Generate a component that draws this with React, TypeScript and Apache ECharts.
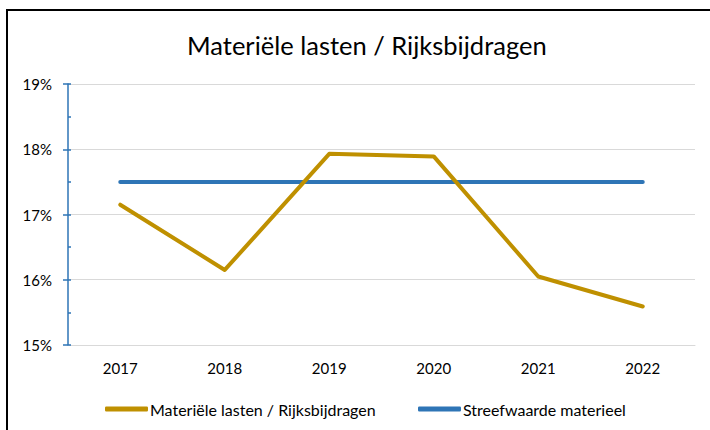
import React, { useEffect, useRef } from "react";
import * as echarts from "echarts";

const years = ["2017", "2018", "2019", "2020", "2021", "2022"];
const materieleLasten = [0.1715, 0.1615, 0.1793, 0.1789, 0.1605, 0.1559];
const streefwaarde = [0.175, 0.175, 0.175, 0.175, 0.175, 0.175];
const seriesNames = ["Materiële lasten / Rijksbijdragen", "Streefwaarde materieel"];
const titleText = "Materiële lasten / Rijksbijdragen";

const FONT = "Lato, 'Open Sans', sans-serif";

export default function App() {
  const ref = useRef<HTMLDivElement>(null);
  useEffect(() => {
    if (!ref.current) return;
    const chart = echarts.init(ref.current, null, { renderer: "svg" });
    chart.setOption({
      animation: false,
      backgroundColor: "#ffffff",
      title: {
        text: titleText,
        left: 182,
        top: 27,
        textStyle: { fontFamily: FONT, fontSize: 25.5, fontWeight: "normal", color: "#000000" },
      },
      graphic: [
        {
          type: "rect",
          shape: { x: 7, y: 10, width: 730, height: 450 },
          style: { fill: "none", stroke: "#000000", lineWidth: 2 },
          silent: true,
        },
      ],
      legend: [
        {
          data: [seriesNames[0]],
          left: 100,
          top: 396,
          itemWidth: 43,
          itemHeight: 5,
          icon: "roundRect",
          textStyle: { fontFamily: FONT, fontSize: 16, color: "#000000", padding: [0, 0, 0, -3] },
        },
        {
          data: [seriesNames[1]],
          left: 413,
          top: 396,
          itemWidth: 43,
          itemHeight: 5,
          icon: "roundRect",
          textStyle: { fontFamily: FONT, fontSize: 16, color: "#000000", padding: [0, 0, 0, -3] },
        },
      ],
      grid: { left: 68, right: 15, top: 84, bottom: 85, containLabel: false },
      xAxis: {
        type: "category",
        data: years,
        boundaryGap: true,
        axisLine: { show: true, lineStyle: { color: "#d9d9d9", width: 1 } },
        axisTick: { show: false },
        axisLabel: { fontFamily: FONT, fontSize: 15, color: "#000000", margin: 15 },
      },
      yAxis: [
        {
          type: "value",
          min: 0.15,
          max: 0.19,
          interval: 0.01,
          axisLine: { show: true, lineStyle: { color: "#2E75B6", width: 1.5 } },
          axisTick: { show: true, length: 5, lineStyle: { color: "#2E75B6", width: 1.5 } },
          splitLine: { show: true, lineStyle: { color: "#d9d9d9", width: 1 } },
          axisLabel: {
            fontFamily: FONT,
            fontSize: 15,
            color: "#000000",
            margin: 16,
            formatter: (v: number) => `${Math.round(v * 100)}%`,
          },
        },
        {
          type: "value",
          position: "left",
          min: 0.15,
          max: 0.19,
          interval: 0.005,
          axisLine: { show: false },
          axisTick: { show: true, inside: true, length: 3, lineStyle: { color: "#2E75B6", width: 1.5 } },
          splitLine: { show: false },
          axisLabel: { show: false },
        },
      ],
      series: [
        {
          name: seriesNames[0],
          type: "line",
          data: materieleLasten,
          symbol: "none",
          color: "#BF9000",
          lineStyle: { color: "#BF9000", width: 4, cap: "round", join: "round" },
          z: 3,
        },
        {
          name: seriesNames[1],
          type: "line",
          data: streefwaarde,
          symbol: "none",
          color: "#2E75B6",
          lineStyle: { color: "#2E75B6", width: 4, cap: "round" },
          z: 2,
        },
      ],
    });
    return () => chart.dispose();
  }, []);
  return (
    <div
      ref={ref}
      style={{ position: "fixed", left: 0, top: 0, width: 710, height: 430 }}
    />
  );
}
